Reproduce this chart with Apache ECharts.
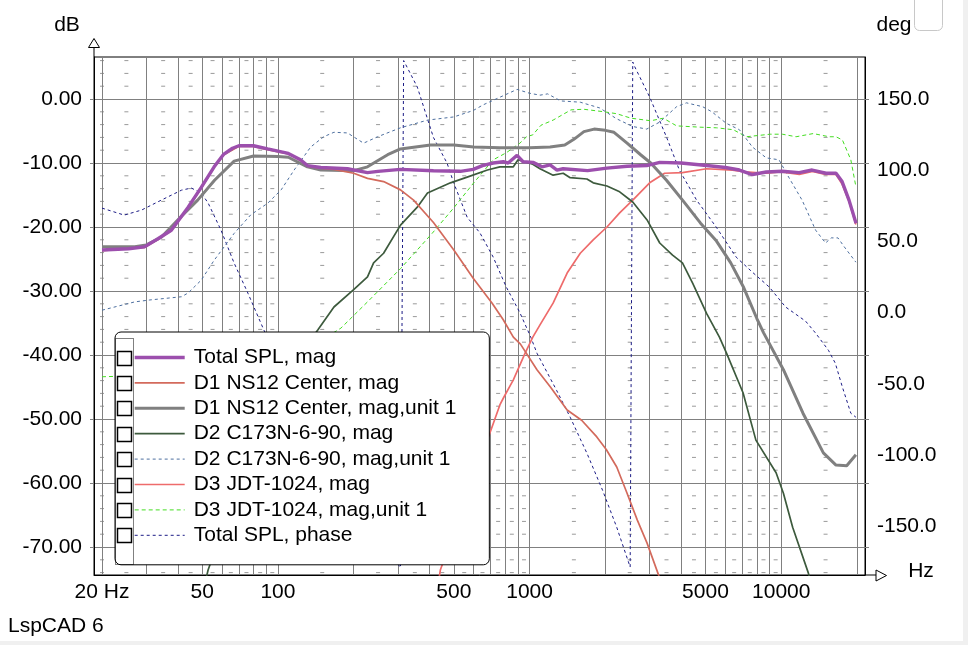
<!DOCTYPE html>
<html>
<head>
<meta charset="utf-8">
<title>LspCAD 6</title>
<script src="https://cdn.jsdelivr.net/npm/echarts@6/dist/echarts.min.js"></script>
<style>
html, body { margin: 0; padding: 0; background: #fff; }
#chart { width: 968px; height: 645px; }
</style>
</head>
<body>
<div id="chart"></div>
<script>
// [Hz, dB] pairs
const totalSplMag = [[20, -23.6], [25.5, -23.4], [29.5, -23.1], [33.5, -21.8], [37.7, -20.5], [44, -16.9], [49.6, -13.8], [55.8, -10.6], [61, -8.6], [66, -7.7], [70, -7.3], [80, -7.3], [91, -7.8], [110, -8.5], [123, -9.5], [131, -10.4], [148, -10.7], [189, -10.9], [227, -11.5], [250, -11.3], [307, -11.0], [415, -11.2], [531, -11.3], [597, -11.0], [650, -10.4], [717, -10.0], [786, -9.8], [822, -10.0], [892, -8.8], [942, -9.8], [1032, -9.9], [1121, -10.6], [1206, -10.3], [1285, -11.1], [1358, -10.9], [1700, -11.2], [2028, -10.8], [2440, -10.5], [2920, -10.4], [3290, -9.9], [4000, -10.0], [5050, -10.4], [6000, -10.7], [6820, -11.1], [7680, -11.8], [8720, -11.4], [10090, -11.3], [11780, -11.5], [13270, -11.1], [15070, -11.6], [16510, -11.6], [17450, -12.9], [18590, -15.8], [19820, -19.4]];
const d1Mag = [[20, -23.7], [29.5, -23.2], [33.5, -21.9], [37.7, -20.6], [44, -17.0], [49.6, -13.9], [55.8, -10.7], [61, -8.7], [70, -7.4], [80, -7.4], [91, -7.9], [110, -8.6], [123, -9.6], [131, -10.5], [148, -10.8], [167, -11.0], [200, -11.6], [227, -12.4], [263, -12.9], [307, -14.2], [346, -15.8], [415, -19.3], [500, -23.6], [597, -28.0], [710, -31.9], [786, -34.5], [862, -37.2], [920, -38.3], [1070, -42.3], [1210, -45.0], [1410, -48.6], [1610, -50.2], [1850, -52.8], [2020, -54.8], [2220, -57.5], [2440, -61.6], [2680, -65.8], [2930, -69.4], [3230, -74.0], [3500, -78]];
const d1Unit1 = [[20, -23.1], [27, -23.1], [30, -22.8], [34.4, -21.6], [40, -18.9], [48, -15.8], [56, -12.7], [67, -9.7], [80, -8.9], [100, -9.0], [110, -9.1], [131, -10.6], [148, -11.1], [200, -11.2], [227, -10.6], [273, -8.7], [307, -7.8], [404, -7.2], [500, -7.2], [600, -7.5], [762, -7.6], [1000, -7.6], [1206, -7.5], [1380, -7.2], [1500, -6.3], [1644, -5.1], [1805, -4.7], [2000, -4.9], [2165, -5.2], [2440, -6.9], [2770, -8.75], [3030, -10.0], [3500, -12.7], [4090, -16.0], [4780, -19.4], [5530, -22.2], [6300, -25.6], [7100, -29.5], [8000, -34.3], [8500, -36.5], [10200, -42.3], [12200, -49.1], [14700, -55.3], [16500, -57.2], [18200, -57.3], [19800, -55.6]];
const d2Mag = [[45, -85], [52.8, -73.6], [70, -60], [90, -50], [110, -43], [130, -38.5], [144, -36.1], [167, -32.5], [200, -29.8], [227, -27.8], [240, -25.6], [263, -24.1], [307, -19.7], [358, -16.9], [393, -14.7], [485, -13.1], [565, -12.2], [680, -11.1], [762, -10.6], [862, -10.6], [900, -9.5], [1030, -10.2], [1100, -10.9], [1240, -11.9], [1360, -11.6], [1450, -12.3], [1690, -12.5], [1790, -13.1], [2030, -13.6], [2280, -14.5], [2570, -16.1], [2930, -18.9], [3290, -22.5], [3700, -24.4], [4050, -25.6], [4450, -28.8], [5050, -33.5], [5680, -37.2], [6060, -39.7], [7050, -45.9], [7930, -53.3], [9540, -58.4], [10200, -61.6], [11100, -66.9], [12800, -74], [14000, -80]];
const d2Unit1 = [[20, -33], [27, -31.7], [31, -31.4], [41.4, -30.9], [44, -30.3], [49.6, -28.3], [55.8, -25.2], [67, -21], [78, -18.1], [91, -16.3], [103, -14.2], [116, -11.1], [135, -7.5], [152, -5.9], [167, -5.2], [189, -5.3], [219, -6.9], [249, -5.9], [307, -4.5], [393, -3.3], [500, -2.8], [597, -1.8], [655, -0.9], [717, -0.2], [892, 1.5], [1000, 0.9], [1100, 0.6], [1180, 0.8], [1330, -0.3], [1590, -0.5], [1900, -1.4], [2220, -3.1], [2570, -4.3], [2920, -4.7], [3290, -3.6], [3840, -1.2], [4200, -0.6], [4870, -1.2], [5300, -2.0], [6050, -3.8], [6820, -4.8], [7680, -7.5], [8720, -9.2], [9800, -9.5], [10700, -12.2], [12100, -15.8], [13700, -20.5], [15000, -22.5], [15800, -21.7], [16800, -21.7], [17800, -23.1], [19800, -25.5]];
const d3Mag = [[400, -85], [442, -73.6], [710, -51.2], [762, -47.8], [790, -46.6], [862, -43.9], [960, -39.7], [1030, -37.2], [1100, -35.3], [1240, -31.9], [1410, -27.2], [1590, -24.1], [1790, -22], [2030, -20], [2280, -17.8], [2570, -15.8], [3000, -13.1], [3440, -11.6], [4050, -11.5], [5050, -10.9], [6400, -11.1], [7200, -11.4], [8700, -11.6], [10000, -11.4], [11800, -11.8], [13300, -11.3], [15000, -11.8], [16500, -11.8], [17450, -13.3], [18600, -16], [19800, -19.6]];
const d3Unit1 = [[20, -43.4], [30, -43.2], [50, -42.5], [80, -41.2], [120, -39.2], [150, -37.6], [178, -35.8], [227, -31.7], [307, -26.5], [410, -21.0], [500, -17.0], [597, -13.2], [717, -9.5], [808, -8.4], [915, -6.9], [973, -5.9], [1030, -5.6], [1110, -4.1], [1240, -3.3], [1460, -1.7], [1640, -1.6], [1980, -2.0], [2220, -2.3], [2530, -3.0], [3030, -3.4], [3400, -3.0], [3840, -4.2], [4740, -4.4], [5530, -4.5], [6450, -4.8], [7260, -5.9], [9040, -5.5], [10100, -5.5], [11450, -5.9], [13400, -5.4], [15500, -5.9], [16500, -5.9], [17500, -6.4], [18900, -9.5], [19800, -13.7]];
// [Hz, deg]
const totalSplPhase = [[20, 73.4], [24.5, 68.5], [28.7, 72], [34.4, 79], [41.4, 86], [45.3, 87.5], [49.6, 84], [52.8, 77], [59.4, 58], [67, 34.8], [76, 13.7], [88, -12.3], [120, -60], [160, -98], [200, -128], [250, -157], [307, -179], [316, 177], [358, 158.4], [415, 123], [470, 105], [500, 91], [565, 67], [635, 56], [717, 39], [808, 18], [915, 0], [1010, -17], [1070, -28.5], [1280, -54.5], [1450, -73.4], [1690, -98.7], [1950, -124.7], [2220, -150.7], [2510, -178.6], [2570, 176], [2620, 172.5], [3000, 151.4], [3500, 123.3], [3940, 100], [4610, 79], [5520, 60], [6620, 39], [7680, 28.4], [8960, 18], [10400, 4], [12500, -6], [13700, -14.4], [15400, -26.4], [16400, -35.5], [17500, -52.3], [18900, -70.6], [19800, -73.4]];

const seriesNames = ['Total SPL, mag', 'D1 NS12 Center, mag', 'D1 NS12 Center, mag,unit 1', 'D2 C173N-6-90, mag', 'D2 C173N-6-90, mag,unit 1', 'D3 JDT-1024, mag', 'D3 JDT-1024, mag,unit 1', 'Total SPL, phase'];

const freqMin = 18.59, freqMax = 21518;
const dbMin = -74.375, dbMax = 6.5625;
const degMin = -184.2, degMax = 179.5;
const freqGrid = [20, 30, 40, 50, 60, 70, 80, 90, 100, 200, 300, 400, 500, 600, 700, 800, 900, 1000, 2000, 3000, 4000, 5000, 6000, 7000, 8000, 9000, 10000, 20000];
const freqLabels = [20, 50, 100, 500, 1000, 5000, 10000];
const freqMinor = [20, 25, 35, 45, 55, 65, 75, 85, 95, 150, 250, 350, 450, 550, 650, 750, 850, 950, 1500, 2500, 3500, 4500, 5500, 6500, 7500, 8500, 9500, 15000];
const dbTicks = [-70, -60, -50, -40, -30, -20, -10, 0];
const dbMinorTicks = [-74, -72, -68, -66, -64, -62, -58, -56, -54, -52, -48, -46, -44, -42, -38, -36, -34, -32, -28, -26, -24, -22, -18, -16, -14, -12, -8, -6, -4, -2, 2, 4, 6];
const degTicks = [-150, -100, -50, 0, 50, 100, 150];

const font = 'Liberation Sans, Arial, sans-serif';
const gridGray = '#808080';

// colour, width, dash, y axis for each series, same order as seriesNames
const styles = [
    ['#9c4fad', 3.4, 'solid', 0],
    ['#d36a5c', 1.7, 'solid', 0],
    ['#808080', 3, 'solid', 0],
    ['#3d5a3d', 1.7, 'solid', 0],
    ['#4d6f9f', 1, [3, 3], 0],
    ['#ee6b6b', 1.7, 'solid', 0],
    ['#44dd22', 1, [4, 3], 0],
    ['#1c1c86', 1, [3, 3], 1]
];
const seriesData = [totalSplMag, d1Mag, d1Unit1, d2Mag, d2Unit1, d3Mag, d3Unit1, totalSplPhase];

const chart = echarts.init(document.getElementById('chart'), null, { renderer: 'canvas' });

const minorDashes = [];
freqMinor.forEach(f => dbMinorTicks.forEach(v => minorDashes.push([f, v])));

const lines = seriesNames.map((name, i) => ({
    name: name,
    type: 'line',
    xAxisIndex: 0,
    yAxisIndex: styles[i][3],
    data: seriesData[i],
    symbol: 'none',
    silent: true,
    lineStyle: { color: styles[i][0], width: styles[i][1], type: styles[i][2] },
    itemStyle: { color: styles[i][0] }
}));
// first entry is drawn on top
lines.reverse();

const legendItems = seriesNames.map((name, i) => ({
    name: name,
    lineStyle: { color: styles[i][0], width: Math.max(styles[i][1], 1), type: styles[i][2] },
    itemStyle: { opacity: 0 }
}));

const log10 = Math.log10;

// legend geometry
const legendTop = 332, legendPadTop = 15, legendLine = 21, legendGap = 4.4;
const graphics = [
    { type: 'rect', shape: { x: 963, y: 0, width: 5, height: 645 }, style: { fill: '#f0f0f0' }, z: 100 },
    { type: 'rect', shape: { x: 0, y: 641, width: 968, height: 4 }, style: { fill: '#f0f0f0' }, z: 100 },
    { type: 'rect', shape: { x: 914.5, y: -6, width: 28, height: 36.5, r: 5 }, style: { fill: '#fff', stroke: '#c8c8c8', lineWidth: 1 }, z: 100 },
    { type: 'text', x: 67, y: 25, style: { text: 'dB', font: '21px ' + font, fill: '#000', align: 'center', verticalAlign: 'middle' }, z: 100 },
    { type: 'text', x: 894, y: 25, style: { text: 'deg', font: '21px ' + font, fill: '#000', align: 'center', verticalAlign: 'middle' }, z: 100 },
    { type: 'text', x: 921, y: 571, style: { text: 'Hz', font: '21px ' + font, fill: '#000', align: 'center', verticalAlign: 'middle' }, z: 100 },
    { type: 'text', x: 8, y: 626, style: { text: 'LspCAD 6', font: '21px ' + font, fill: '#000', align: 'left', verticalAlign: 'middle' }, z: 100 },
    { type: 'line', shape: { x1: 94, y1: 47, x2: 94, y2: 57 }, style: { stroke: '#000', lineWidth: 1 }, z: 100 },
    { type: 'polygon', shape: { points: [[88.5, 47.5], [99.5, 47.5], [94, 38.5]] }, style: { fill: '#fff', stroke: '#000', lineWidth: 1 }, z: 100 },
    { type: 'line', shape: { x1: 865, y1: 575, x2: 876, y2: 575 }, style: { stroke: '#000', lineWidth: 1 }, z: 100 },
    { type: 'polygon', shape: { points: [[876, 570], [876, 581], [886.5, 575.5]] }, style: { fill: '#fff', stroke: '#000', lineWidth: 1 }, z: 100 },
    { type: 'rect', shape: { x: 115.5, y: 338.5, width: 18, height: 226 }, style: { fill: 'none', stroke: '#000', lineWidth: 1, lineDash: [1, 1] }, z: 100 }
];
seriesNames.forEach((n, i) => {
    const cy = legendTop + legendPadTop + legendLine / 2 + i * (legendLine + legendGap);
    graphics.push({ type: 'rect', shape: { x: 117.5, y: Math.round(cy - 7) + 0.5, width: 14, height: 14 }, style: { fill: '#fff', stroke: '#000', lineWidth: 1.5 }, z: 100 });
});

const option = {
    animation: false,
    backgroundColor: '#fff',
    grid: { left: 94, right: 103, top: 57, bottom: 70, show: true, borderColor: '#000', borderWidth: 1, backgroundColor: 'transparent' },
    legend: {
        orient: 'vertical',
        left: 115,
        top: legendTop,
        data: legendItems,
        itemWidth: 50,
        itemHeight: 14,
        itemGap: legendGap,
        padding: [legendPadTop, 33, 19, 18],
        backgroundColor: '#fff',
        borderColor: '#000',
        borderWidth: 1,
        borderRadius: 6,
        selectedMode: false,
        itemStyle: { opacity: 0 },
        textStyle: { fontSize: 21, fontFamily: font, color: '#000', lineHeight: legendLine, padding: [0, 0, 0, 4] }
    },
    xAxis: [
        { type: 'log', logBase: 10, min: freqMin, max: freqMax, show: false, axisLine: { onZero: false } },
        {
            type: 'value', min: log10(freqMin), max: log10(freqMax), position: 'bottom',
            axisLine: { show: true, onZero: false, lineStyle: { color: '#000', width: 1 } },
            axisTick: { show: false, customValues: freqGrid.map(log10) },
            axisLabel: {
                customValues: freqLabels.map(log10), margin: 7, fontSize: 21, fontFamily: font, color: '#000',
                formatter: v => { const f = Math.round(Math.pow(10, v)); return f === 20 ? '20 Hz' : String(f); }
            },
            splitLine: { show: true, lineStyle: { color: gridGray, width: 1 } }
        }
    ],
    yAxis: [
        {
            type: 'value', min: dbMin, max: dbMax, position: 'left',
            axisLine: { show: true, onZero: false, lineStyle: { color: '#000', width: 1 } },
            axisTick: { show: true, customValues: dbTicks, length: 4, lineStyle: { color: gridGray } },
            axisLabel: { customValues: dbTicks, margin: 12, fontSize: 21, fontFamily: font, color: '#000', formatter: v => v.toFixed(2) },
            splitLine: { show: true, lineStyle: { color: gridGray, width: 1 } }
        },
        {
            type: 'value', min: degMin, max: degMax, position: 'right',
            axisLine: { show: true, onZero: false, lineStyle: { color: '#000', width: 1 } },
            axisTick: { show: false, customValues: degTicks },
            axisLabel: { customValues: degTicks, margin: 12, fontSize: 21, fontFamily: font, color: '#000', formatter: v => v.toFixed(1) },
            splitLine: { show: false }
        },
        {
            type: 'value', min: dbMin, max: dbMax, position: 'right',
            axisLine: { show: false, onZero: false },
            axisTick: { show: true, customValues: dbTicks, length: 4, lineStyle: { color: gridGray } },
            axisLabel: { show: false },
            splitLine: { show: false }
        }
    ],
    series: [
        {
            type: 'scatter', xAxisIndex: 0, yAxisIndex: 0, data: minorDashes, symbol: 'rect', symbolSize: [4, 1],
            itemStyle: { color: gridGray }, silent: true, z: 1
        }
    ].concat(lines),
    graphic: graphics
};

chart.setOption(option);
</script>
</body>
</html>
